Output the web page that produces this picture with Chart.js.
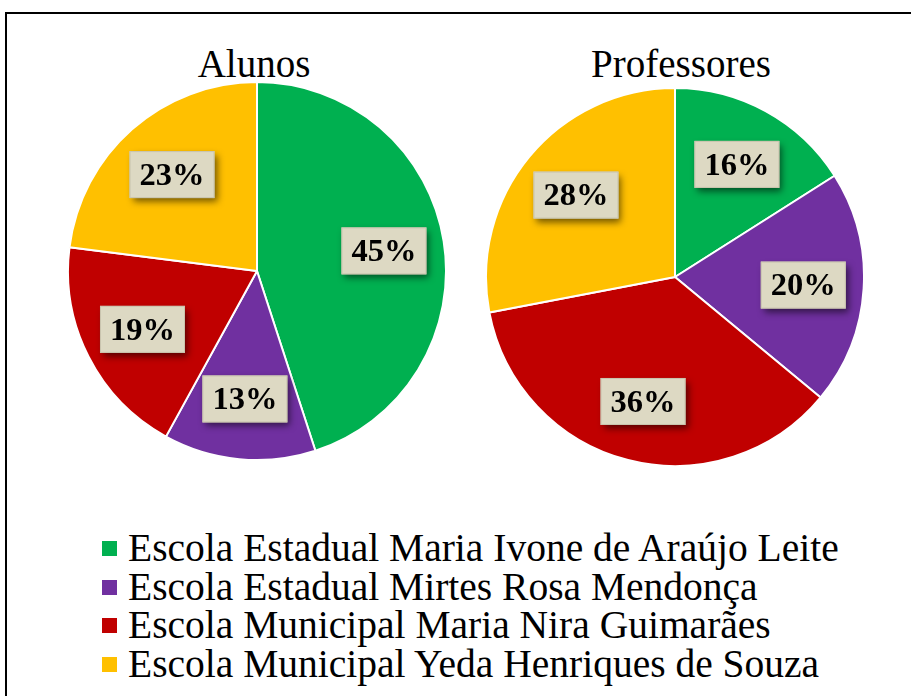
<!DOCTYPE html>
<html>
<head>
<meta charset="utf-8">
<script src="https://cdn.jsdelivr.net/npm/chart.js@4"></script>
<style>
  body { margin: 0; background: #fff; width: 911px; height: 696px; overflow: hidden; position: relative; font-family: "Liberation Serif", serif; }
  .frame { position: absolute; left: 5px; top: 12px; width: 920px; height: 700px; border-left: 2px solid #000; border-top: 2px solid #000; }
  .pie { position: absolute; width: 380px; height: 380px; }
  .title { position: absolute; font-size: 39px; color: #000; transform: translateX(-50%); white-space: nowrap; line-height: 39px; }
  .legend { position: absolute; left: 102px; top: 529px; font-size: 39.5px; line-height: 38.7px; color: #000; }
  .legend div { white-space: nowrap; }
  .legend span { display: inline-block; width: 15px; height: 15px; margin-right: 11px; vertical-align: 5px; }
</style>
</head>
<body>
<div class="frame"></div>
<div class="title" style="left:254px; top:44px;">Alunos</div>
<div class="title" style="left:681px; top:44px;">Professores</div>
<div class="pie" style="left:67px; top:81px;"><canvas id="alunosChart"></canvas></div>
<div class="pie" style="left:485px; top:87px;"><canvas id="professoresChart"></canvas></div>
<div class="legend" id="legend"></div>

<script>
// Data
const schools = [
    'Escola Estadual Maria Ivone de Araújo Leite',
    'Escola Estadual Mirtes Rosa Mendonça',
    'Escola Municipal Maria Nira Guimarães',
    'Escola Municipal Yeda Henriques de Souza'
];
const alunos = [45, 13, 19, 23];
const professores = [16, 20, 36, 28];
const colors = ['#00B050', '#7030A0', '#C00000', '#FFC000'];

// Percent boxes drawn inside each slice
const boxLabels = {
    id: 'boxLabels',
    afterDatasetsDraw(chart) {
        const ctx = chart.ctx;
        const values = chart.data.datasets[0].data;
        chart.getDatasetMeta(0).data.forEach((arc, i) => {
            const mid = (arc.startAngle + arc.endAngle) / 2;
            const r = arc.outerRadius * 0.68;
            const x = arc.x + Math.cos(mid) * r;
            const y = arc.y + Math.sin(mid) * r;
            const text = values[i] + '%';
            ctx.save();
            ctx.font = 'bold 32.5px "Liberation Serif"';
            const w = ctx.measureText(text).width + 20;
            const h = 47;
            ctx.shadowColor = 'rgba(0,0,0,0.55)';
            ctx.shadowBlur = 7;
            ctx.shadowOffsetX = 3;
            ctx.shadowOffsetY = 4;
            ctx.fillStyle = '#DDD9C3';
            ctx.fillRect(x - w / 2, y - h / 2, w, h);
            ctx.shadowColor = 'transparent';
            ctx.strokeStyle = '#C9C4AE';
            ctx.lineWidth = 1;
            ctx.strokeRect(x - w / 2 + 0.5, y - h / 2 + 0.5, w - 1, h - 1);
            ctx.fillStyle = '#000';
            ctx.textAlign = 'center';
            ctx.textBaseline = 'middle';
            ctx.fillText(text, x, y + 2);
            ctx.restore();
        });
    }
};

function makePie(id, values) {
    new Chart(document.getElementById(id), {
        type: 'pie',
        data: {
            labels: schools,
            datasets: [{
                data: values,
                backgroundColor: colors,
                borderColor: '#fff',
                borderWidth: 2
            }]
        },
        options: {
            responsive: true,
            maintainAspectRatio: false,
            animation: false,
            layout: { padding: 0 },
            plugins: {
                legend: { display: false },
                tooltip: { enabled: false }
            }
        },
        plugins: [boxLabels]
    });
}

makePie('alunosChart', alunos);
makePie('professoresChart', professores);

// Legend
const legend = document.getElementById('legend');
schools.forEach((name, i) => {
    const row = document.createElement('div');
    row.innerHTML = '<span style="background:' + colors[i] + '"></span>' + name;
    legend.appendChild(row);
});
</script>
</body>
</html>
